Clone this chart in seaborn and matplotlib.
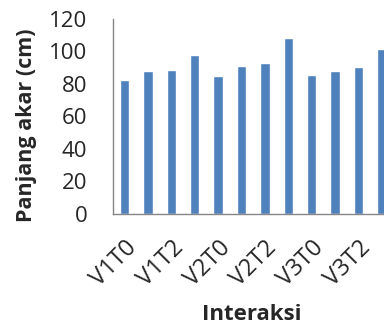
import matplotlib
matplotlib.use("Agg")
import matplotlib.pyplot as plt
import seaborn as sns
import pandas as pd
import numpy as np

# data
labels = ["V1T0", "V1T1", "V1T2", "V1T3",
          "V2T0", "V2T1", "V2T2", "V2T3",
          "V3T0", "V3T1", "V3T2", "V3T3"]
panjang = [82.5, 88.0, 88.8, 97.8, 85.1, 91.1, 92.7, 108.3, 85.3, 88.0, 90.5, 101.7]

df = pd.DataFrame({"Interaksi": labels, "Panjang": panjang})

sns.set_theme(style="white")
plt.rcParams["font.family"] = ["Open Sans", "DejaVu Sans"]

fig = plt.figure(figsize=(3.84, 3.26), dpi=100)
ax = fig.add_axes([0.294, 0.344, 0.731, 0.598])

sns.barplot(data=df, x="Interaksi", y="Panjang", color="#4F81BD",
            width=0.4, saturation=1, ax=ax)

ax.set_xlim(-0.5, len(labels) - 0.5)
ax.set_ylim(0, 120)
ax.set_yticks(range(0, 121, 20))

# labels on every second category, tick marks between categories
ax.set_xticks(range(0, len(labels), 2))
ax.set_xticklabels(labels[::2], rotation=45, ha="right", rotation_mode="anchor")
ax.set_xticks(np.arange(-0.5, len(labels), 1), minor=True)
ax.tick_params(axis="x", which="major", length=0, pad=16, labelsize=17)
ax.tick_params(axis="x", which="minor", length=5, width=1, color="#868686")
ax.tick_params(axis="y", length=4.3, width=1, color="#868686", labelsize=16, pad=14)

for s in ["top", "right"]:
    ax.spines[s].set_visible(False)
for s in ["left", "bottom"]:
    ax.spines[s].set_color("#868686")
    ax.spines[s].set_linewidth(1)

ax.set_xlabel("Interaksi", fontsize=16, fontweight="bold")
ax.set_ylabel("Panjang akar (cm)", fontsize=15.5, fontweight="bold")
ax.xaxis.set_label_coords(0.495, -0.46)
ax.yaxis.set_label_coords(-0.27, 0.456)

fig.savefig("out.png", dpi=100)
